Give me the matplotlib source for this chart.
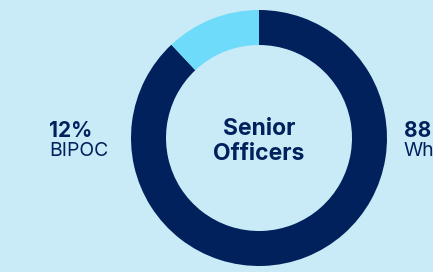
import matplotlib
matplotlib.use("Agg")
import matplotlib.pyplot as plt

# data
labels = ['White', 'BIPOC']
values = [88, 12]
colors = ['#00215B', '#6FDBFA']
bg = '#C9EBF7'
navy = '#00215B'

plt.rcParams['font.family'] = ['Inter', 'DejaVu Sans']

fig = plt.figure(figsize=(4.33, 2.72), dpi=100, facecolor=bg)
ax = fig.add_axes([0, 0, 1, 1])
ax.set_facecolor(bg)

ax.pie(values, colors=colors, startangle=90, counterclock=False,
       center=(259, 134), radius=128, frame=True,
       wedgeprops=dict(width=35, linewidth=0))
ax.set_xlim(0, 433)
ax.set_ylim(0, 272)
ax.set_aspect('equal')
ax.axis('off')

# centre label
ax.text(259, 137, 'Senior', ha='center', va='baseline', fontsize=16.5,
        fontweight='bold', color=navy)
ax.text(259, 112, 'Officers', ha='center', va='baseline', fontsize=16.5,
        fontweight='bold', color=navy)

# side labels
ax.text(49, 135, '%d%%' % values[1], ha='left', va='baseline', fontsize=15,
        fontweight='bold', color=navy)
ax.text(49, 116, labels[1], ha='left', va='baseline', fontsize=14, color=navy)
ax.text(404, 135, '%d%%' % values[0], ha='left', va='baseline', fontsize=15,
        fontweight='bold', color=navy)
ax.text(404, 116, labels[0], ha='left', va='baseline', fontsize=14, color=navy)

fig.savefig('out.png', dpi=100, facecolor=bg)
